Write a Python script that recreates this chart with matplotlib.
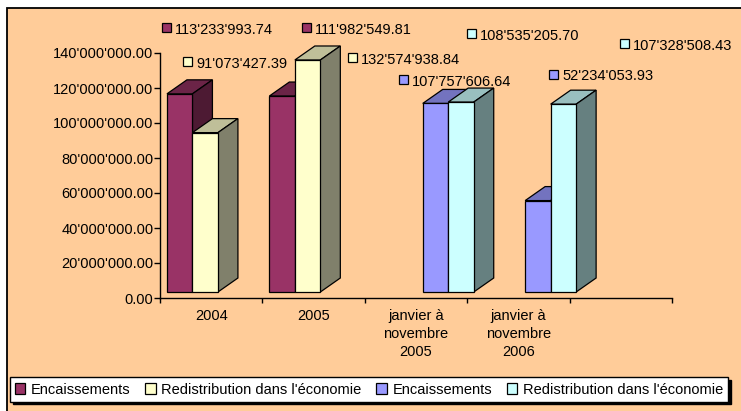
import matplotlib
matplotlib.use("Agg")
import matplotlib.pyplot as plt
from matplotlib.patches import Polygon, Rectangle, Patch
from matplotlib.ticker import FuncFormatter, FixedLocator

plt.rcParams['font.family'] = ['Liberation Sans', 'DejaVu Sans']
plt.rcParams['font.size'] = 10.5

# data
categories = ["2004", "2005", "janvier à\nnovembre\n2005", "janvier à\nnovembre\n2006", ""]
series_names = ["Encaissements", "Redistribution dans l'économie",
                "Encaissements", "Redistribution dans l'économie"]
enc_year = [113233993.74, 111982549.81, None, None, None]
redis_year = [91073427.39, 132574938.84, None, None, None]
enc_period = [None, None, 107757606.64, 52234053.93, None]
redis_period = [None, None, 108535205.70, 107328508.43, None]
series_values = [enc_year, redis_year, enc_period, redis_period]

front_colors = ["#993366", "#FFFFCC", "#9999FF", "#CCFFFF"]
top_colors = ["#6B2447", "#BFBF99", "#7373BF", "#99BFBF"]
side_colors = ["#4D1A33", "#80806B", "#4D4D80", "#668080"]

# where Excel left the data labels (pixel position of the key square)
label_pos = {
    (0, 0): (162, 28), (1, 0): (302, 28),
    (0, 1): (183, 62), (1, 1): (348, 58),
    (2, 2): (399, 80), (3, 2): (549, 75),
    (2, 3): (467, 34), (3, 3): (620, 44),
}

W, H = 741, 411
fig = plt.figure(figsize=(W / 100, H / 100), dpi=100)
fig.patch.set_facecolor("white")
fig.patches.append(Rectangle((7 / W, -0.1), 1.2, 1.1 - 8 / H, transform=fig.transFigure,
                             facecolor="#FFCC99", edgecolor="black", linewidth=1.3, zorder=-10))

ax = fig.add_axes([160 / W, 1 - 298 / H, 512 / W, 245 / H])
ax.set_facecolor("none")
ax.set_xlim(0, len(categories))
ax.set_ylim(0, 140e6)

bar_w = 0.249
start = 0.068
depth_x = 0.195
depth_y = 8e6
base = 3.43e6

z = 2
for i in range(len(categories)):
    for s, vals in enumerate(series_values):
        v = vals[i]
        if v is None:
            continue
        x0 = i + start + s * bar_w
        x1 = x0 + bar_w
        top = base + v
        ax.add_patch(Polygon([(x0, top), (x0 + depth_x, top + depth_y),
                              (x1 + depth_x, top + depth_y), (x1, top)],
                             closed=True, facecolor=top_colors[s], edgecolor="black",
                             linewidth=0.9, zorder=z, clip_on=False))
        ax.add_patch(Polygon([(x1, base), (x1 + depth_x, base + depth_y),
                              (x1 + depth_x, top + depth_y), (x1, top)],
                             closed=True, facecolor=side_colors[s], edgecolor="black",
                             linewidth=0.9, zorder=z, clip_on=False))
        ax.bar(x0, v, width=bar_w, bottom=base, align="edge", color=front_colors[s],
               edgecolor="black", linewidth=0.9, zorder=z + 1, clip_on=False)
        z += 2

        kx, ky = label_pos[(i, s)]
        fig.patches.append(Rectangle((kx / W, 1 - (ky + 4.5) / H), 9 / W, 9 / H,
                                     transform=fig.transFigure, facecolor=front_colors[s],
                                     edgecolor="black", linewidth=0.9))
        fig.text((kx + 13) / W, 1 - ky / H, f"{v:,.2f}".replace(",", "'"),
                 ha="left", va="center_baseline")

for side in ["top", "right"]:
    ax.spines[side].set_visible(False)
for side in ["left", "bottom"]:
    ax.spines[side].set_linewidth(1.0)

ax.yaxis.set_major_locator(FixedLocator([k * 20e6 for k in range(8)]))
ax.yaxis.set_major_formatter(FuncFormatter(lambda v, p: f"{v:,.2f}".replace(",", "'")))
ax.tick_params(axis="y", length=4.3, width=1.0, pad=0.5)

ax.xaxis.set_major_locator(FixedLocator(range(len(categories) + 1)))
ax.xaxis.set_minor_locator(FixedLocator([i + 0.5 for i in range(len(categories))]))
ax.set_xticklabels([], minor=False)
ax.set_xticklabels(categories, minor=True, linespacing=1.35, va="top")
ax.tick_params(axis="x", which="major", length=3.6, width=1.0)
ax.tick_params(axis="x", which="minor", length=0, pad=8)

handles = [Patch(facecolor=c, edgecolor="black", linewidth=0.9) for c in front_colors]
fig.legend(handles, series_names, loc="center", bbox_to_anchor=(369 / W, 1 - 389.5 / H),
           ncol=4, frameon=True, fancybox=False, edgecolor="black", framealpha=1,
           shadow={"color": "black", "alpha": 1}, borderpad=0.35,
           handlelength=0.7, handleheight=0.7, handletextpad=0.4,
           columnspacing=1.0, borderaxespad=0)

fig.savefig("out.png", dpi=100)
